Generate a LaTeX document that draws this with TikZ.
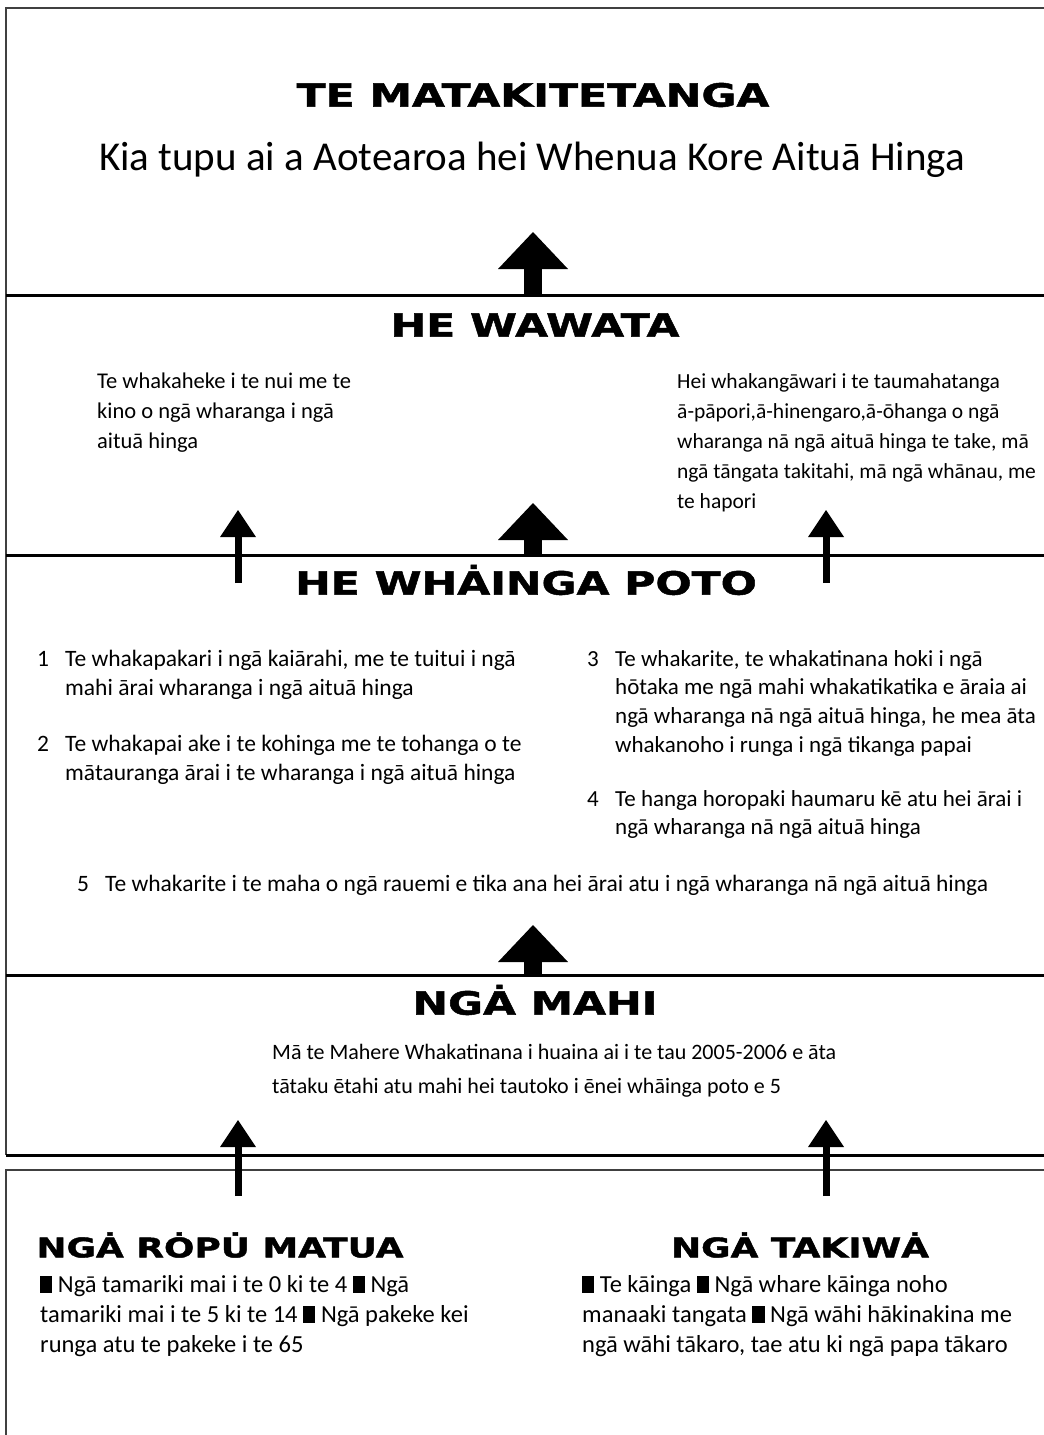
\documentclass[tikz,border=0pt]{standalone}
\usepackage{fontspec}
\setmainfont{Carlito}
\newfontfamily\headfont[FakeStretch=1.33,FakeBold=1.6]{DejaVu Sans Bold}
\usetikzlibrary{arrows.meta}

\tikzset{
  frame/.style={line width=1.5pt,draw=black!75},
  band/.style={line width=3pt},
  head/.style={font=\headfont\fontsize{32}{32}\selectfont,inner sep=0pt},
  subhead/.style={font=\headfont\fontsize{27}{27}\selectfont,inner sep=0pt},
  body/.style={font=\fontsize{22}{30}\selectfont,align=left,anchor=north west,inner sep=0pt},
  itembox/.style={body,font=\fontsize{23.5}{28.7}\selectfont},
  bigup/.style={line width=18pt,-{Triangle[length=37pt,width=70pt,line width=0pt]}},
  smallup/.style={line width=7pt,-{Triangle[length=27pt,width=36pt,line width=0pt]}},
}
\newcommand{\blk}{\rule[-0.03em]{0.5em}{0.7em}}
\newcommand{\num}[1]{\makebox[28pt][l]{#1}}

\begin{document}
\begin{tikzpicture}[x=1pt,y=-1pt]
  \useasboundingbox (0,0) rectangle (1044,1435);
  % frame and bands
  \coordinate (TL) at (6,8); \coordinate (TR) at (1044,8);
  \coordinate (L1) at (6,295); \coordinate (R1) at (1044,295);
  \coordinate (L2) at (6,555); \coordinate (R2) at (1044,555);
  \coordinate (L3) at (6,975); \coordinate (R3) at (1044,975);
  \coordinate (L4) at (6,1155); \coordinate (R4) at (1044,1155);
  \coordinate (L5) at (6,1170); \coordinate (R5) at (1044,1170);
  \coordinate (BL) at (6,1435);
  \draw[frame] (TR) -- (TL) -- (L4); \draw[frame] (R5) -- (L5) -- (BL);
  \draw[band] (L1) -- (R1); \draw[band] (L2) -- (R2); \draw[band] (L3) -- (R3); \draw[band] (L4) -- (R4);

  % te matakitetanga
  \node[head] (vision) at (533,95) {TE MATAKITETANGA};
  \node[font=\fontsize{41}{41}\selectfont,inner sep=0pt] (visiontext) at (532,160) {Kia tupu ai a Aotearoa hei Whenua Kore Aituā Hinga};

  % he wawata
  \node[head] (wawata) at (535,325) {HE WAWATA};
  \node[body,font=\fontsize{22.5}{30}\selectfont] (wawataL) at (97,373) {Te whakaheke i te nui me te\\kino o ngā wharanga i ngā\\aituā hinga};
  \node[body,font=\fontsize{21.5}{30}\selectfont] (wawataR) at (677,373) {Hei whakangāwari i te taumahatanga\\ā-pāpori,ā-hinengaro,ā-ōhanga o ngā\\wharanga nā ngā aituā hinga te take, mā\\ngā tāngata takitahi, mā ngā whānau, me\\te hapori};

  % he whainga poto
  \node[head] (poto) at (526,580) {HE WHȦINGA POTO};
  \node[itembox] (item1) at (37,650) {\num{1}Te whakapakari i ngā kaiārahi, me te tuitui i ngā\\\num{}mahi ārai wharanga i ngā aituā hinga};
  \node[itembox] (item2) at (37,735) {\num{2}Te whakapai ake i te kohinga me te tohanga o te\\\num{}mātauranga ārai i te wharanga i ngā aituā hinga};
  \node[itembox,font=\fontsize{23}{28.7}\selectfont] (item3) at (587,650) {\num{3}Te whakarite, te whakatinana hoki i ngā\\\num{}hōtaka me ngā mahi whakatikatika e āraia ai\\\num{}ngā wharanga nā ngā aituā hinga, he mea āta\\\num{}whakanoho i runga i ngā tikanga papai};
  \node[itembox,font=\fontsize{23}{28.7}\selectfont] (item4) at (587,790) {\num{4}Te hanga horopaki haumaru kē atu hei ārai i\\\num{}ngā wharanga nā ngā aituā hinga};
  \node[itembox] (item5) at (77,875) {\num{5}Te whakarite i te maha o ngā rauemi e tika ana hei ārai atu i ngā wharanga nā ngā aituā hinga};

  % nga mahi
  \node[head] (mahi) at (535,1000) {NGȦ MAHI};
  \node[body,font=\fontsize{22}{34}\selectfont] (mahitext) at (272,1044) {Mā te Mahere Whakatinana i huaina ai i te tau 2005-2006 e āta\\tātaku ētahi atu mahi hei tautoko i ēnei whāinga poto e 5};

  % nga ropu matua / nga takiwa
  \node[subhead] (ropu) at (220,1245) {NGȦ RȮPU̇ MATUA};
  \node[body,font=\fontsize{24.5}{30}\selectfont] (roputext) at (40,1275) {\blk{} Ngā tamariki mai i te 0 ki te 4 \blk{} Ngā\\tamariki mai i te 5 ki te 14 \blk{} Ngā pakeke kei\\runga atu te pakeke i te 65};
  \node[subhead] (takiwa) at (800,1245) {NGȦ TAKIWȦ};
  \node[body,font=\fontsize{24.5}{30}\selectfont] (takiwatext) at (582,1275) {\blk{} Te kāinga \blk{} Ngā whare kāinga noho\\manaaki tangata \blk{} Ngā wāhi hākinakina me\\ngā wāhi tākaro, tae atu ki ngā papa tākaro};

  % arrows
  \coordinate (a1s) at (533,295); \coordinate (a1t) at (533,232);
  \coordinate (a2s) at (238,583); \coordinate (a2t) at (238,510);
  \coordinate (a3s) at (533,555); \coordinate (a3t) at (533,503);
  \coordinate (a4s) at (826,583); \coordinate (a4t) at (826,510);
  \coordinate (a5s) at (533,975); \coordinate (a5t) at (533,925);
  \coordinate (a6s) at (238,1196); \coordinate (a6t) at (238,1120);
  \coordinate (a7s) at (826,1196); \coordinate (a7t) at (826,1120);
  \draw[bigup] (a1s) -- (a1t); \draw[bigup] (a3s) -- (a3t); \draw[bigup] (a5s) -- (a5t);
  \draw[smallup] (a2s) -- (a2t); \draw[smallup] (a4s) -- (a4t);
  \draw[smallup] (a6s) -- (a6t); \draw[smallup] (a7s) -- (a7t);
\end{tikzpicture}
\end{document}
